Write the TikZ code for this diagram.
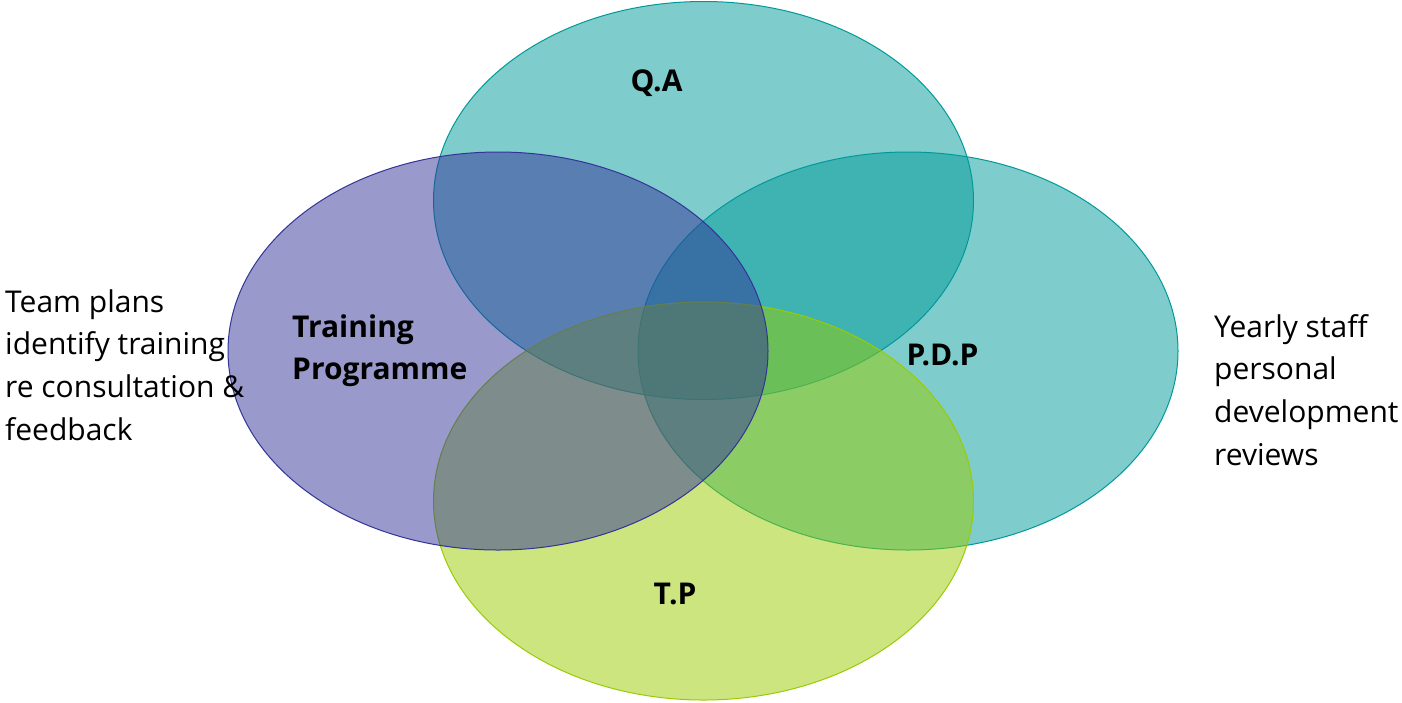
\documentclass[tikz,border=0pt]{standalone}
\usepackage{fontspec}
\setmainfont{Open Sans}
\usetikzlibrary{shapes.geometric}
\definecolor{setteal}{HTML}{009999}
\definecolor{setnavy}{HTML}{333399}
\definecolor{setlime}{HTML}{99CC00}
\begin{document}
\begin{tikzpicture}[x=1pt,y=-1pt,
  vennset/.style={ellipse, minimum width=540pt, minimum height=398pt,
    inner sep=0pt, outer sep=0pt, fill opacity=0.5, line width=1pt},
  setname/.style={font=\fontsize{30}{42}\selectfont\bfseries, inner sep=0pt},
  sidenote/.style={font=\fontsize{30}{42.7}\selectfont, align=left,
    inner sep=0pt, anchor=west}]
\useasboundingbox (0,0) rectangle (1402,702);

% the four overlapping sets, back to front
\node[vennset, draw=setteal, fill=setteal] (qa)  at (703.5,200.5) {};
\node[vennset, draw=setteal, fill=setteal] (pdp) at (908,351) {};
\node[vennset, draw=setlime, fill=setlime] (tp)  at (703.5,501) {};
\node[vennset, draw=setnavy, fill=setnavy] (trp) at (498,351) {};

% set names
\node[setname, anchor=base] (qaname)  at (656.5,91)  {Q.A};
\node[setname, anchor=base] (pdpname) at (942.5,365) {P.D.P};
\node[setname, anchor=base] (tpname)  at (675,604)   {T.P};
\node[setname, align=left, anchor=west] (trpname) at (292,351)
  {Training\\Programme};

% side notes
\node[sidenote] (leftnote)  at (5,365)    {Team plans\\identify training\\re consultation \&\\feedback};
\node[sidenote] (rightnote) at (1214,390) {Yearly staff\\personal\\development\\reviews};
\end{tikzpicture}
\end{document}
